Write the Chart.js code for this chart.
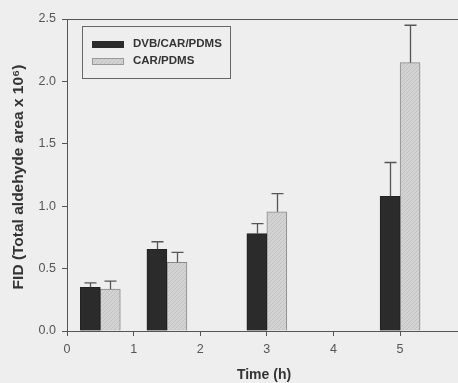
<!DOCTYPE html>
<html>
<head>
<meta charset="utf-8">
<script src="https://cdn.jsdelivr.net/npm/chart.js@4/dist/chart.umd.min.js"></script>
<style>
  html, body { margin: 0; padding: 0; background: #eeeeee; overflow: hidden; }
  #wrap { width: 458px; height: 383px; overflow: hidden; }
</style>
</head>
<body>
<div id="wrap"><canvas id="barChart" width="500" height="383"></canvas></div>
<script>
// data
var times = [0.5, 1.5, 3, 5];
var dvbCarPdms = [0.35, 0.655, 0.78, 1.08];
var dvbErr = [0.035, 0.06, 0.08, 0.27];
var carPdms = [0.335, 0.55, 0.955, 2.15];
var carErr = [0.065, 0.08, 0.145, 0.30];
var yTicks = [0, 0.5, 1.0, 1.5, 2.0, 2.5];
var seriesNames = ['DVB/CAR/PDMS', 'CAR/PDMS'];

var FONT = "Arial, 'Liberation Sans', sans-serif";

// light speckled fill for the CAR/PDMS bars
function makeHatch() {
    var c = document.createElement('canvas');
    c.width = 4; c.height = 4;
    var g = c.getContext('2d');
    g.fillStyle = '#d3d3d3';
    g.fillRect(0, 0, 4, 4);
    g.fillStyle = '#c2c2c2';
    g.fillRect(0, 3, 1, 1);
    g.fillRect(1, 2, 1, 1);
    g.fillRect(2, 1, 1, 1);
    g.fillRect(3, 0, 1, 1);
    return g.createPattern(c, 'repeat');
}
var hatch = makeHatch();

function pts(vals) {
    return times.map(function (t, i) { return { x: t, y: vals[i] }; });
}

var errorBars = {
    id: 'errorBars',
    afterDatasetsDraw: function (chart) {
        var ctx = chart.ctx;
        var ys = chart.scales.y;
        var errs = [dvbErr, carErr];
        ctx.save();
        ctx.strokeStyle = '#555';
        ctx.lineWidth = 1.3;
        chart.data.datasets.forEach(function (ds, di) {
            var meta = chart.getDatasetMeta(di);
            meta.data.forEach(function (bar, i) {
                var top = ys.getPixelForValue(ds.data[i].y + errs[di][i]);
                var x = Math.round(bar.x) + 0.5;
                ctx.beginPath();
                ctx.moveTo(x, bar.y);
                ctx.lineTo(x, top);
                ctx.moveTo(x - 6, top);
                ctx.lineTo(x + 6, top);
                ctx.stroke();
            });
        });
        ctx.restore();
    }
};

var decor = {
    id: 'decor',
    beforeDraw: function (chart) {
        var ctx = chart.ctx;
        ctx.save();
        ctx.fillStyle = '#eeeeee';
        ctx.fillRect(0, 0, chart.width, chart.height);
        ctx.restore();
    },
    afterDraw: function (chart) {
        var ctx = chart.ctx;
        var a = chart.chartArea;
        ctx.save();
        // top frame line
        ctx.strokeStyle = '#555';
        ctx.lineWidth = 1;
        ctx.beginPath();
        ctx.moveTo(a.left, a.top + 0.5);
        ctx.lineTo(a.right, a.top + 0.5);
        ctx.stroke();

        // legend box
        ctx.strokeStyle = '#666';
        ctx.strokeRect(82.5, 26.5, 148, 52);
        var cols = ['#2b2b2b', hatch];
        ctx.font = 'bold 11.5px ' + FONT;
        ctx.textBaseline = 'middle';
        ctx.textAlign = 'left';
        for (var i = 0; i < 2; i++) {
            var y = 44 + i * 17;
            ctx.fillStyle = cols[i];
            ctx.fillRect(92, y - 3, 32, 7);
            if (i === 1) {
                ctx.strokeStyle = '#999';
                ctx.strokeRect(92.5, y - 2.5, 31, 6);
            }
            ctx.fillStyle = '#333';
            ctx.fillText(seriesNames[i], 133, y);
        }

        // axis titles
        ctx.fillStyle = '#333';
        ctx.font = 'bold 14px ' + FONT;
        ctx.textAlign = 'center';
        ctx.fillText('Time (h)', 264, 375);
        ctx.font = 'bold 15.5px ' + FONT;
        ctx.translate(19, 177);
        ctx.rotate(-Math.PI / 2);
        ctx.fillText('FID (Total aldehyde area x 10\u2076)', 0, 0);
        ctx.restore();
    }
};

var ctx = document.getElementById('barChart').getContext('2d');
var myChart = new Chart(ctx, {
    type: 'bar',
    data: {
        datasets: [{
            label: seriesNames[0],
            data: pts(dvbCarPdms),
            backgroundColor: '#2b2b2b',
            borderColor: '#222',
            borderWidth: 1,
            barThickness: 20
        }, {
            label: seriesNames[1],
            data: pts(carPdms),
            backgroundColor: hatch,
            borderColor: '#8a8a8a',
            borderWidth: 1,
            barThickness: 20
        }]
    },
    options: {
        responsive: false,
        animation: false,
        devicePixelRatio: 1,
        layout: { padding: { top: 19, left: 0, right: 0, bottom: 0 } },
        plugins: {
            legend: { display: false },
            tooltip: { enabled: false }
        },
        scales: {
            x: {
                type: 'linear',
                min: 0,
                max: 6.5,
                offset: false,
                afterFit: function (s) { s.height = 52; },
                border: { color: '#555', width: 1 },
                grid: { offset: false, drawOnChartArea: false, drawTicks: true, tickLength: 5, color: '#555' },
                ticks: {
                    stepSize: 1,
                    includeBounds: false,
                    padding: 6,
                    color: '#555',
                    font: { family: FONT, size: 12.5 }
                }
            },
            y: {
                min: 0,
                max: 2.5,
                afterFit: function (s) { s.width = 67; },
                afterBuildTicks: function (s) { s.ticks = yTicks.map(function (v) { return { value: v }; }); },
                border: { color: '#555', width: 1 },
                grid: { drawOnChartArea: false, drawTicks: true, tickLength: 5, color: '#555' },
                ticks: {
                    padding: 6,
                    color: '#555',
                    font: { family: FONT, size: 12.5 },
                    callback: function (v) { return Number(v).toFixed(1); }
                }
            }
        }
    },
    plugins: [decor, errorBars]
});
</script>
</body>
</html>
